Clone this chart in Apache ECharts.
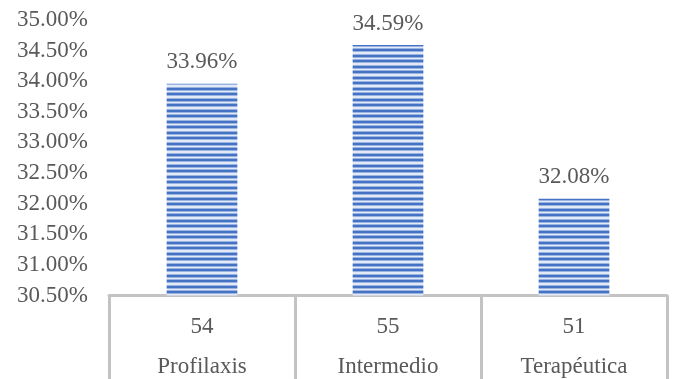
<!DOCTYPE html>
<html>
<head>
    <meta charset="utf-8">
    <title>ECharts</title>
    <script src="https://cdn.jsdelivr.net/npm/echarts@6/dist/echarts.min.js"></script>
    <style>
      html, body { margin: 0; padding: 0; background: #fff; }
    </style>
</head>
<body>
    <div id="chart" style="width: 674px;height:379px;"></div>
    <script type="text/javascript">
    // datos
    var categories = ['Profilaxis', 'Intermedio', 'Terapéutica'];
    var counts = [54, 55, 51];
    var values = [33.96, 34.59, 32.08];
    var yTicks = [30.5, 35, 0.5]; // min, max, paso

    // patrón de rayas horizontales para las barras
    function stripePattern() {
      var rows = ['#4472C4', '#4472C4', '#9bb3e0', '#e3eaf7', '#9bb3e0',
                  '#4472C4', '#4472C4', '#9bb3e0', '#e3eaf7', '#e3eaf7', '#9bb3e0'];
      var c = document.createElement('canvas');
      c.width = 8;
      c.height = rows.length;
      var ctx = c.getContext('2d');
      for (var i = 0; i < rows.length; i++) {
        ctx.fillStyle = rows[i];
        ctx.fillRect(0, i, 8, 1);
      }
      return c;
    }

    var font = '"Liberation Serif", "Times New Roman", serif';
    var textColor = '#595959';
    var lineColor = '#c3c3c3';

    var chart = echarts.init(document.getElementById('chart'));
    var option = {
        animation: false,
        grid: { left: 109, right: 7, top: 20, bottom: 83.5, outerBoundsMode: 'none', containLabel: false },
        xAxis: {
            type: 'category',
            data: categories.map(function (c, i) { return counts[i] + '\n' + c; }),
            axisLine: { show: true, lineStyle: { color: lineColor, width: 3 } },
            axisTick: { show: true, length: 90, lineStyle: { color: lineColor, width: 3 } },
            axisLabel: {
                color: textColor, fontFamily: font, fontSize: 23,
                lineHeight: 40, margin: 11, interval: 0
            }
        },
        yAxis: {
            type: 'value',
            min: yTicks[0],
            max: yTicks[1],
            interval: yTicks[2],
            axisLine: { show: false },
            axisTick: { show: false },
            splitLine: { show: false },
            axisLabel: {
                color: textColor, fontFamily: font, fontSize: 23, margin: 21,
                formatter: function (v) { return v.toFixed(2) + '%'; }
            }
        },
        series: [{
            type: 'bar',
            data: values,
            barWidth: '38%',
            itemStyle: { color: { image: stripePattern(), repeat: 'repeat' } },
            label: {
                show: true,
                position: 'top',
                distance: 10,
                color: textColor, fontFamily: font, fontSize: 23,
                formatter: function (p) { return p.value.toFixed(2) + '%'; }
            }
        }]
    };
    chart.setOption(option);
    </script>
</body>
</html>
